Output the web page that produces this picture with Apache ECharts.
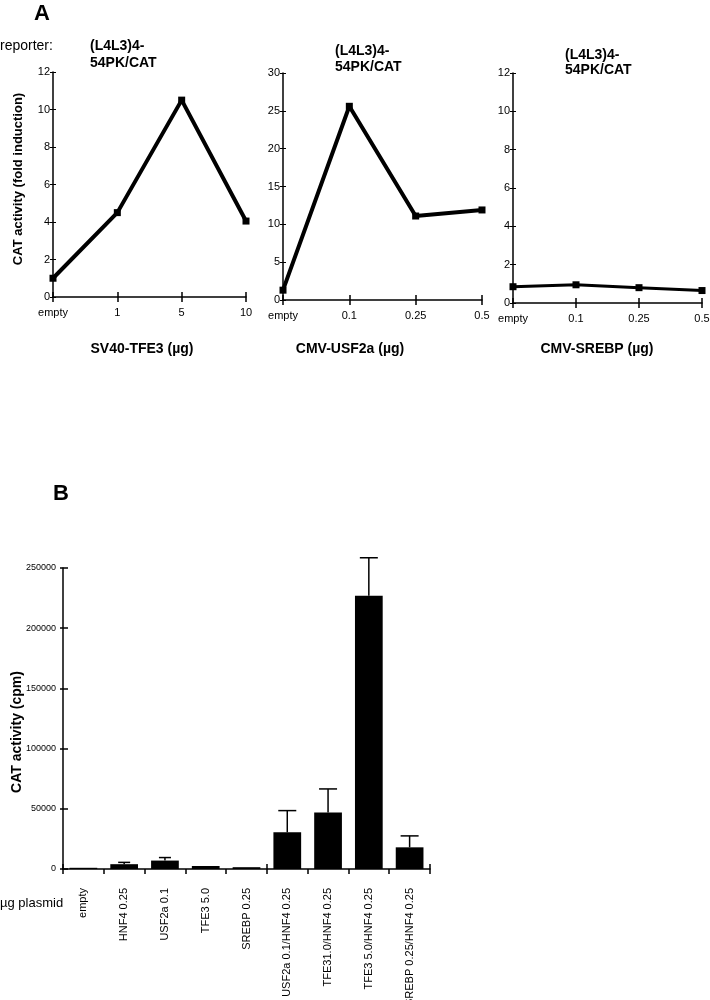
<!DOCTYPE html>
<html><head><meta charset="utf-8">
<script src="https://cdn.jsdelivr.net/npm/echarts@6/dist/echarts.min.js"></script>
<style>html,body{margin:0;padding:0;background:#fff}#c{width:710px;height:1000px}</style>
</head><body><div id="c"></div>
<script>
// Panel A data
var catsA1 = ['empty', '1', '5', '10'];
var valsA1 = [1.0, 4.5, 10.5, 4.05];
var catsA2 = ['empty', '0.1', '0.25', '0.5'];
var valsA2 = [1.3, 25.6, 11.1, 11.9];
var catsA3 = ['empty', '0.1', '0.25', '0.5'];
var valsA3 = [0.85, 0.95, 0.8, 0.65];
var xTitlesA = ['SV40-TFE3 (µg)', 'CMV-USF2a (µg)', 'CMV-SREBP (µg)'];
var yMaxA = [12, 30, 12];
var yIntA = [2, 5, 2];
// Panel B data
var catsB = ['empty', 'HNF4 0.25', 'USF2a 0.1', 'TFE3 5.0', 'SREBP 0.25',
  'USF2a 0.1/HNF4 0.25', 'TFE31.0/HNF4 0.25', 'TFE3 5.0/HNF4 0.25', 'SREBP 0.25/HNF4 0.25'];
var valsB = [1000, 4000, 7000, 2500, 1500, 30500, 47000, 227000, 18000];
var errTopB = [null, 5500, 9500, null, null, 48500, 66500, 258500, 27500];

var FONT = '"Liberation Sans", Arial, Helvetica, sans-serif';
var chart = echarts.init(document.getElementById('c'), null, {renderer: 'canvas'});

var gridsA = [
  {left: 53, top: 72, width: 193, height: 225, outerBoundsMode: 'none', containLabel: false},
  {left: 283, top: 73, width: 199, height: 227, outerBoundsMode: 'none', containLabel: false},
  {left: 513, top: 73, width: 189, height: 230, outerBoundsMode: 'none', containLabel: false}
];
var catsA = [catsA1, catsA2, catsA3];
var valsA = [valsA1, valsA2, valsA3];

var grid = [], xAxis = [], yAxis = [], series = [];
gridsA.forEach(function (g, i) {
  grid.push(g);
  var xi = xAxis.length, yi = yAxis.length;
  xAxis.push({type: 'category', gridIndex: i, position: 'bottom', data: catsA[i], boundaryGap: false,
    axisLine: {lineStyle: {color: '#000', width: 1.5}},
    axisTick: {show: true, length: 5, lineStyle: {color: '#000', width: 1.5}},
    axisLabel: {color: '#000', fontSize: 11, fontFamily: FONT, margin: 10}});
  xAxis.push({type: 'category', gridIndex: i, position: 'bottom', data: catsA[i], boundaryGap: false,
    axisLine: {show: false}, axisLabel: {show: false},
    axisTick: {show: true, inside: true, length: 5, lineStyle: {color: '#000', width: 1.5}}});
  yAxis.push({type: 'value', gridIndex: i, position: 'left', min: 0, max: yMaxA[i], interval: yIntA[i],
    splitLine: {show: false},
    axisLine: {show: true, lineStyle: {color: '#000', width: 1.5}},
    axisTick: {show: true, length: 3, lineStyle: {color: '#000', width: 1}},
    axisLabel: {color: '#000', fontSize: 11, fontFamily: FONT, margin: 3}});
  yAxis.push({type: 'value', gridIndex: i, position: 'left', min: 0, max: yMaxA[i], interval: yIntA[i],
    splitLine: {show: false}, axisLine: {show: false}, axisLabel: {show: false},
    axisTick: {show: true, inside: true, length: 3, lineStyle: {color: '#000', width: 1}}});
  series.push({type: 'line', xAxisIndex: xi, yAxisIndex: yi, data: valsA[i],
    symbol: 'rect', symbolSize: 7, showSymbol: true,
    lineStyle: {color: '#000', width: i === 2 ? 3 : 4},
    itemStyle: {color: '#000'}, animation: false, silent: true});
});

// Panel B
grid.push({left: 63, top: 568, width: 367, height: 301, outerBoundsMode: 'none', containLabel: false});
var gB = 3;
var xbi = xAxis.length, ybi = yAxis.length;
xAxis.push({type: 'category', gridIndex: gB, position: 'bottom', data: catsB, boundaryGap: true,
  axisLine: {lineStyle: {color: '#000', width: 1.5}},
  axisTick: {show: true, length: 5, lineStyle: {color: '#000', width: 1.5}},
  axisLabel: {color: '#000', fontSize: 11, fontFamily: FONT, rotate: 90, margin: 19, interval: 0}});
xAxis.push({type: 'category', gridIndex: gB, position: 'bottom', data: catsB, boundaryGap: true,
  axisLine: {show: false}, axisLabel: {show: false},
  axisTick: {show: true, inside: true, length: 5, lineStyle: {color: '#000', width: 1.5}}});
yAxis.push({type: 'value', gridIndex: gB, position: 'left', min: 0, max: 250000, interval: 50000,
  splitLine: {show: false},
  axisLine: {show: true, lineStyle: {color: '#000', width: 1.5}},
  axisTick: {show: true, length: 3, lineStyle: {color: '#000', width: 1.5}},
  axisLabel: {color: '#000', fontSize: 9, fontFamily: FONT, margin: 7,
    formatter: function (v) { return String(v); }}});
yAxis.push({type: 'value', gridIndex: gB, position: 'left', min: 0, max: 250000, interval: 50000,
  splitLine: {show: false}, axisLine: {show: false}, axisLabel: {show: false},
  axisTick: {show: true, inside: true, length: 5, lineStyle: {color: '#000', width: 1.5}}});
series.push({type: 'bar', xAxisIndex: xbi, yAxisIndex: ybi, data: valsB, barWidth: '68%',
  itemStyle: {color: '#000'}, animation: false, silent: true});
series.push({type: 'custom', xAxisIndex: xbi, yAxisIndex: ybi, animation: false, silent: true,
  data: catsB.map(function (c, i) { return [i, valsB[i], errTopB[i]]; }),
  renderItem: function (params, api) {
    var top = api.value(2);
    if (top === null || top === undefined || isNaN(top)) return null;
    var p0 = api.coord([api.value(0), api.value(1)]);
    var p1 = api.coord([api.value(0), top]);
    var hw = Math.max(6, Math.min(9, (p0[1] - p1[1]) * 2));
    return {type: 'group', children: [
      {type: 'line', shape: {x1: p0[0], y1: p0[1], x2: p1[0], y2: p1[1]}, style: {stroke: '#000', lineWidth: 1.5}},
      {type: 'line', shape: {x1: p1[0] - hw, y1: p1[1], x2: p1[0] + hw, y2: p1[1]}, style: {stroke: '#000', lineWidth: 1.5}}
    ]};
  }});

function txt(x, y, text, size, weight, align, rot) {
  return {type: 'text', x: x, y: y, rotation: rot || 0,
    style: {text: text, fill: '#000', font: (weight || 'normal') + ' ' + size + 'px ' + FONT,
      textAlign: align || 'left', textVerticalAlign: 'middle'}};
}
var graphic = [
  txt(42, 14, 'A', 22, 'bold', 'center'),
  txt(0, 46, 'reporter:', 14, 'normal', 'left'),
  txt(90, 46, '(L4L3)4-', 14, 'bold', 'left'),
  txt(90, 63, '54PK/CAT', 14, 'bold', 'left'),
  txt(335, 51, '(L4L3)4-', 14, 'bold', 'left'),
  txt(335, 67, '54PK/CAT', 14, 'bold', 'left'),
  txt(565, 55, '(L4L3)4-', 14, 'bold', 'left'),
  txt(565, 70, '54PK/CAT', 14, 'bold', 'left'),
  txt(18, 179, 'CAT activity (fold induction)', 13, 'bold', 'center', Math.PI / 2),
  txt(142, 349, xTitlesA[0], 14, 'bold', 'center'),
  txt(350, 349, xTitlesA[1], 14, 'bold', 'center'),
  txt(597, 349, xTitlesA[2], 14, 'bold', 'center'),
  txt(61, 494, 'B', 22, 'bold', 'center'),
  txt(17, 732, 'CAT activity (cpm)', 14, 'bold', 'center', Math.PI / 2),
  txt(0, 903, 'µg plasmid', 13, 'normal', 'left')
];

chart.setOption({animation: false, backgroundColor: '#fff', grid: grid, xAxis: xAxis, yAxis: yAxis,
  series: series, graphic: graphic});
</script></body></html>
